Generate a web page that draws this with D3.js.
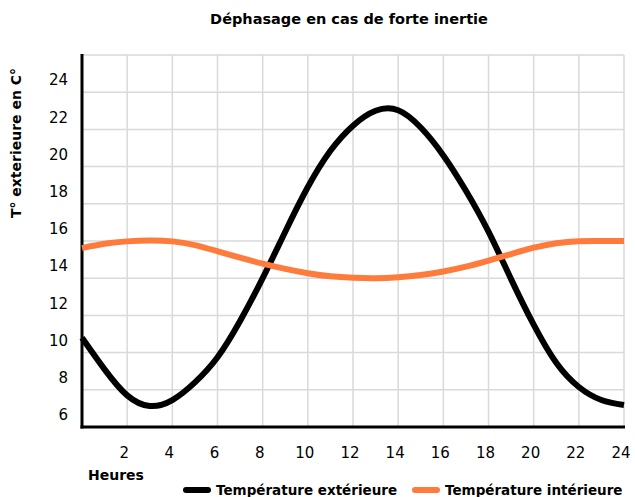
<!DOCTYPE html>
<html lang="fr">
	<head>
		<meta charset="UTF-8">
		<title>Déphasage en cas de forte inertie</title>
		<script src="https://d3js.org/d3.v7.min.js"></script>
		<style>
			body { margin: 0; background: #fff; }
			text { font-family: 'DejaVu Sans', Arial, sans-serif; fill: #000; }
			.bold { font-weight: bold; }
		</style>
	</head>
	<body>
		<div id="chart"></div>
		<script>
			// donnees
			var heures = [0,1,2,3,4,5,6,7,8,9,10,11,12,13,14,15,16,17,18,19,20,21,22,23,24];
			var tempExt = [10.8,9.1,7.7,7.13,7.45,8.4,9.75,11.7,14.0,16.5,18.9,20.85,22.2,23.0,23.03,22.1,20.6,18.7,16.5,13.95,11.5,9.45,8.15,7.45,7.18];
			var tempInt = [15.62,15.85,15.98,16.03,15.98,15.78,15.45,15.1,14.78,14.5,14.27,14.1,14.02,14.0,14.05,14.17,14.36,14.62,14.95,15.3,15.64,15.88,15.99,16.0,16.0];
			var xTicks = [2,4,6,8,10,12,14,16,18,20,22,24];
			var yTicks = [6,8,10,12,14,16,18,20,22,24];
			var yGrid = [8,10,12,14,16,18,20,22,24,26];
			var series = ["Température extérieure", "Température intérieure"];
			var colors = ["#000000", "#fe7b3c"];

			var width = 635, height = 497;
			var svg = d3.select("#chart").append("svg")
				.attr("width", width)
				.attr("height", height);

			var x = d3.scaleLinear().domain([0, 24]).range([82, 624]);
			var y = d3.scaleLinear().domain([6, 26]).range([427, 55]);

			// grille
			svg.append("g").selectAll("line").data(xTicks).enter().append("line")
				.attr("x1", function (d) { return x(d); })
				.attr("x2", function (d) { return x(d); })
				.attr("y1", y(26)).attr("y2", y(6))
				.attr("stroke", "#d9d9d9").attr("stroke-width", 1.5);
			svg.append("g").selectAll("line").data(yGrid).enter().append("line")
				.attr("x1", x(0)).attr("x2", x(24))
				.attr("y1", function (d) { return y(d); })
				.attr("y2", function (d) { return y(d); })
				.attr("stroke", "#d9d9d9").attr("stroke-width", 1.5);

			// axes
			svg.append("line").attr("x1", x(0)).attr("x2", x(0)).attr("y1", y(26) - 1).attr("y2", y(6) + 1.5)
				.attr("stroke", "#000").attr("stroke-width", 3);
			svg.append("line").attr("x1", x(0) - 1.5).attr("x2", x(24) + 1).attr("y1", y(6)).attr("y2", y(6))
				.attr("stroke", "#000").attr("stroke-width", 3);

			svg.append("g").selectAll("text").data(yTicks).enter().append("text")
				.attr("x", 68)
				.attr("y", function (d) { return y(d) - 12; })
				.attr("dy", "0.35em")
				.attr("text-anchor", "end")
				.style("font-size", "15px")
				.text(function (d) { return d; });
			svg.append("g").selectAll("text").data(xTicks).enter().append("text")
				.attr("x", function (d) { return x(d) - 3; })
				.attr("y", 453)
				.attr("dy", "0.35em")
				.attr("text-anchor", "middle")
				.style("font-size", "15px")
				.text(function (d) { return d; });

			// courbes
			var line = d3.line().curve(d3.curveNatural);
			[tempExt, tempInt].forEach(function (vals, i) {
				svg.append("path")
					.attr("d", line(heures.map(function (h, j) { return [x(h), y(vals[j])]; })))
					.attr("fill", "none")
					.attr("stroke", colors[i])
					.attr("stroke-width", 6);
			});

			// textes
			svg.append("text").attr("class", "bold")
				.attr("x", 349).attr("y", 19).attr("dy", "0.35em")
				.attr("text-anchor", "middle").style("font-size", "14.5px")
				.text("Déphasage en cas de forte inertie");
			svg.append("text").attr("class", "bold")
				.attr("transform", "translate(16,143) rotate(-90)")
				.attr("dy", "0.35em")
				.attr("text-anchor", "middle").style("font-size", "14px")
				.text("T° exterieure en C°");
			svg.append("text").attr("class", "bold")
				.attr("x", 88).attr("y", 475).attr("dy", "0.35em")
				.style("font-size", "14px")
				.text("Heures");

			// legende
			var legX = [183, 412];
			series.forEach(function (s, i) {
				svg.append("line")
					.attr("x1", legX[i] + 3).attr("x2", legX[i] + 25)
					.attr("y1", 490).attr("y2", 490)
					.attr("stroke", colors[i]).attr("stroke-width", 6)
					.attr("stroke-linecap", "round");
				svg.append("text").attr("class", "bold")
					.attr("x", legX[i] + 33).attr("y", 490).attr("dy", "0.35em")
					.style("font-size", "13.5px")
					.text(s);
			});
		</script>
	</body>
</html>
